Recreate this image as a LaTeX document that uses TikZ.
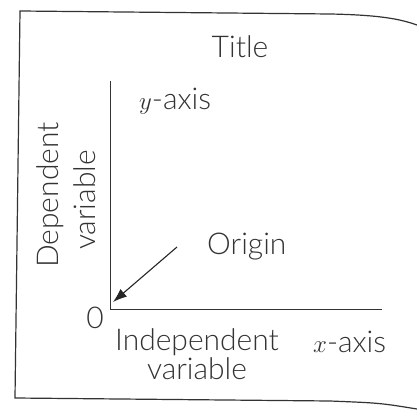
\documentclass[tikz,border=0pt]{standalone}
\usepackage{fontspec}
\setmainfont{Lato}[UprightFont=* Light]
\usetikzlibrary{arrows.meta}
\begin{document}
\begin{tikzpicture}[x=1pt, y=-1pt, >={Latex[length=14pt,width=10pt]},
  lbl/.style={text=black!80, font=\fontsize{30}{34}\selectfont, inner sep=0pt}]
  \useasboundingbox (0,0) rectangle (417,411);
  % frame
  \draw[line width=1.2pt, black!80] (417,25) .. controls (400,19) and (380,15) .. (330,14)
    -- (20,11) -- (15,398) -- (330,401) .. controls (380,403) .. (417,409);
  % axes
  \coordinate (O) at (110,309);
  \coordinate (ytop) at (110,81);
  \coordinate (xend) at (382,309);
  \draw[line width=1pt, black!80] (ytop) -- (O) -- (xend);
  % labels
  \node[lbl] (title) at (240,47) {Title};
  \node[lbl, anchor=west] (yaxis) at (139,101) {$y$-axis};
  \node[lbl, rotate=90] (dep) at (50,195) {Dependent};
  \node[lbl, rotate=90] (depvar) at (85,200) {variable};
  \node[lbl, anchor=west] (origin) at (207,247) {Origin};
  \node[lbl] (zero) at (95,318) {0};
  \node[lbl] (indep) at (197,342) {Independent};
  \node[lbl] (indepvar) at (197,369) {variable};
  \node[lbl, anchor=west] (xaxis) at (313,342) {$x$-axis};
  % arrow to the origin
  \coordinate (ostart) at (177,247);
  \coordinate (tip) at (113,302);
  \draw[->, line width=1.1pt, black!85] (ostart) -- (tip);
\end{tikzpicture}
\end{document}
